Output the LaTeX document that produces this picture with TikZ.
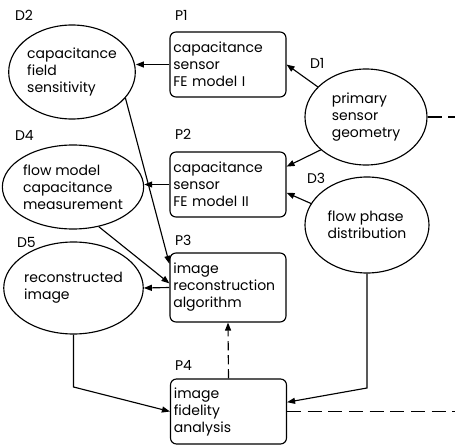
\documentclass[tikz,border=0pt]{standalone}
\usepackage{fontspec}
\setmainfont{Poppins}
\usetikzlibrary{shapes.geometric,arrows.meta}

\begin{document}
\begin{tikzpicture}[x=0.75pt,y=0.75pt,yscale=-1,line width=0.85pt,
  every node/.style={font=\fontsize{10.5}{12.75}\selectfont},
  procbox/.style={draw,rounded corners=4.5pt,minimum width=87pt,minimum height=48.75pt,text width=82pt,align=left,inner xsep=2.5pt,inner ysep=0pt},
  datastore/.style={draw,ellipse,inner sep=0pt,align=left},
  arr/.style={-{Triangle[length=6pt,width=4.5pt]}},
  longdash/.style={dash pattern=on 10.5pt off 5pt},
  shortdash/.style={dash pattern=on 7pt off 3.5pt}]
\useasboundingbox (0,0) rectangle (455,446);

% Process boxes
\node [procbox] (P1) at (228,64.5) {capacitance\\sensor\\FE model I};
\node [procbox] (P2) at (228,184.5) {capacitance\\sensor\\FE model II};
\node [procbox,minimum height=51.75pt] (P3) at (228,287.5) {image\\reconstruction\\algorithm};
\node [procbox] (P4) at (228.5,411.5) {image\\fidelity\\analysis};

% Data ellipses
\node [datastore,minimum width=90pt,minimum height=70.5pt] (D2) at (72,72) {capacitance\\field\\sensitivity};
\node [datastore,minimum width=90pt,minimum height=63pt] (D4) at (73,187) {flow model\\capacitance\\measurement};
\node [datastore,minimum width=91.5pt,minimum height=69pt] (D5) at (73.5,288) {reconstructed\\image};
\node [datastore,minimum width=91.5pt,minimum height=72pt] (D1) at (366,117) {primary\\sensor\\geometry};
\node [datastore,minimum width=93pt,minimum height=72pt] (D3) at (367,225) {flow phase\\distribution};

% Text Node
\node [anchor=west] (labD2) at (10,15) {D2};
% Text Node
\node [anchor=west] (labP1) at (170,15) {P1};
% Text Node
\node [anchor=west] (labD4) at (10,135) {D4};
% Text Node
\node [anchor=west] (labP2) at (170,134) {P2};
% Text Node
\node [anchor=west] (labD5) at (12,242) {D5};
% Text Node
\node [anchor=west] (labP3) at (170,240) {P3};
% Text Node
\node [anchor=west] (labP4) at (170,365) {P4};
% Text Node
\node [anchor=west] (labD1) at (305,63) {D1};
% Text Node
\node [anchor=west] (labD3) at (302,178) {D3};

% bends and free ends
\coordinate (d5bend) at (73.5,387);
\coordinate (d3bend) at (367,388);
\coordinate (d1out) at (455,117);
\coordinate (p4out) at (455,411.5);

%Straight Lines
\draw [arr] (P1.west) -- (P1.west -| D2.east);
%Straight Lines
\draw [arr] (P2.west) -- (P2.west -| D4.east);
%Straight Lines
\draw [arr] (D1.148) -- (P1.east);
%Straight Lines
\draw [arr] (D1.216) -- (P2.17);
%Straight Lines
\draw [arr] (D3.159) -- (P2.-8);
%Straight Lines
\draw [arr] (D2.-26) -- (P3.158);
%Straight Lines
\draw [arr] (D4.-57) -- (P3.176);
%Straight Lines
\draw [arr] (P3.west) -- (D5.east);
%Straight Lines
\draw [arr] (D5.south) -- (d5bend) -- (P4.west);
%Straight Lines
\draw [arr] (D3.south) -- (d3bend) -- (P4.9);
%Straight Lines
\draw [arr,shortdash] (P4.north) -- (P3.south);
%Straight Lines
\draw [longdash] (D1.east) -- (d1out);
%Straight Lines
\draw [longdash] (P4.east) -- (p4out);

\end{tikzpicture}
\end{document}
